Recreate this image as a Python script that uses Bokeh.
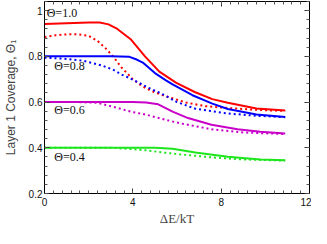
from bokeh.plotting import figure
from bokeh.models import LinearAxis, FixedTicker, Range1d, Label
from bokeh.embed import file_html
from bokeh.resources import INLINE

# ---- data ----
x_red_solid = [0, 1, 2, 2.5, 2.9, 3.3, 3.9, 4.55, 5.2, 5.95, 6.8, 7.6, 8.3, 9.6, 10.9]
y_red_solid = [0.942, 0.945, 0.948, 0.948, 0.94, 0.92, 0.875, 0.80, 0.733, 0.685, 0.644, 0.613, 0.597, 0.572, 0.563]

x_red_dot = [0, 0.5, 1.0, 1.5, 2.0, 2.4, 2.8, 3.1, 3.5, 4.0, 4.4, 4.8, 5.3, 6.4, 7.3, 8.3, 9.6, 10.9]
y_red_dot = [0.885, 0.892, 0.896, 0.897, 0.89, 0.868, 0.832, 0.80, 0.75, 0.70, 0.671, 0.65, 0.632, 0.598, 0.582, 0.574, 0.566, 0.561]

x_blue_solid = [0, 1, 2, 3, 3.85, 4.2, 4.45, 5.0, 5.5, 5.8, 6.7, 7.6, 8.3, 9.6, 10.9]
y_blue_solid = [0.80, 0.80, 0.80, 0.80, 0.798, 0.785, 0.773, 0.727, 0.695, 0.677, 0.63, 0.593, 0.57, 0.546, 0.535]

x_blue_dot = [0, 0.9, 1.8, 2.6, 3.1, 3.5, 4.0, 4.4, 4.8, 5.3, 6.0, 6.8, 7.6, 8.3, 9.6, 10.9]
y_blue_dot = [0.794, 0.79, 0.78, 0.76, 0.742, 0.72, 0.698, 0.678, 0.658, 0.637, 0.60, 0.572, 0.56, 0.55, 0.54, 0.534]

x_mag_solid = [0, 2, 4, 4.6, 5.15, 5.8, 6.5, 7.56, 8.74, 9.77, 10.9]
y_mag_solid = [0.60, 0.60, 0.60, 0.598, 0.59, 0.558, 0.53, 0.501, 0.481, 0.47, 0.463]

x_mag_dot = [0, 1.5, 2.4, 2.86, 3.4, 3.9, 4.6, 5.3, 6.1, 7.56, 9.0, 10.9]
y_mag_dot = [0.60, 0.60, 0.597, 0.585, 0.572, 0.558, 0.545, 0.527, 0.508, 0.481, 0.467, 0.46]

x_green_solid = [0, 4, 5.0, 5.8, 6.83, 8.3, 9.77, 10.9]
y_green_solid = [0.40, 0.40, 0.40, 0.396, 0.379, 0.361, 0.349, 0.345]

x_green_dot = [0, 3.0, 3.9, 4.6, 5.4, 6.1, 7.56, 9.0, 10.9]
y_green_dot = [0.40, 0.40, 0.395, 0.389, 0.379, 0.372, 0.358, 0.349, 0.344]

theta_labels = ["\u0398=1.0", "\u0398=0.8", "\u0398=0.6", "\u0398=0.4"]
theta_label_x = [0.1, 0.44, 0.44, 0.44]
theta_label_y = [0.988, 0.757, 0.565, 0.359]

x_title = "\u0394E/kT"
y_title = "Layer 1 Coverage, \u0398\u2081"

x_ticks = [0, 4, 8, 12]
x_tick_labels = ["0", "4", "8", "12"]
y_ticks = [0.2, 0.4, 0.6, 0.8, 1.0]
y_tick_labels = ["0.2", "0.4", "0.6", "0.8", "1"]

RED = "#ff0000"
BLUE = "#0000ff"
MAG = "#c800c8"
GREEN = "#1ee61e"

p = figure(width=311, height=228, output_backend="svg", toolbar_location=None,
           x_range=Range1d(0, 12), y_range=Range1d(0.2, 1.04),
           min_border_left=37, min_border_right=2, min_border_top=1, min_border_bottom=0)
p.xgrid.visible = False
p.ygrid.visible = False
p.outline_line_color = "black"
p.outline_line_width = 1
p.background_fill_color = "white"
p.border_fill_color = "white"

x_minor = [i * 0.4 for i in range(31)]
y_minor = [0.2 + i * 0.04 for i in range(22)]

xt = FixedTicker(ticks=x_ticks, minor_ticks=x_minor)
yt = FixedTicker(ticks=y_ticks, minor_ticks=y_minor)

def style(ax, labels=True):
    ax.major_tick_in = 5
    ax.major_tick_out = 0
    ax.minor_tick_in = 3
    ax.minor_tick_out = 0
    ax.axis_line_color = "black"
    ax.major_tick_line_color = "#333333"
    ax.minor_tick_line_color = "#555555"
    if labels:
        ax.major_label_text_font = "Liberation Sans"
        ax.major_label_text_font_size = "10px"
        ax.major_label_text_color = "#111111"
        ax.major_label_text_line_height = 1.0
        ax.major_label_standoff = 2
    else:
        ax.major_label_text_font_size = "1px"
        ax.major_label_text_color = None
        ax.major_label_standoff = 0

xa = p.xaxis[0]
xa.ticker = xt
xa.major_label_overrides = {t: l for t, l in zip(x_ticks, x_tick_labels)}
style(xa)
xa.major_label_standoff = 4
xa.axis_label = x_title
xa.axis_label_text_font = "Liberation Serif"
xa.axis_label_text_font_style = "normal"
xa.axis_label_text_font_size = "13px"
xa.axis_label_text_line_height = 1.0
xa.axis_label_standoff = 2

ya = p.yaxis[0]
ya.ticker = yt
ya.major_label_overrides = {t: l for t, l in zip(y_ticks, y_tick_labels)}
style(ya)
ya.axis_label = y_title
ya.axis_label_text_font = "Liberation Sans"
ya.axis_label_text_font_style = "normal"
ya.axis_label_text_font_size = "12px"
ya.axis_label_text_line_height = 1.0
ya.axis_label_standoff = 8

ra = LinearAxis(ticker=FixedTicker(ticks=y_ticks, minor_ticks=y_minor))
style(ra, labels=False)
p.add_layout(ra, "right")
ta = LinearAxis(ticker=FixedTicker(ticks=x_ticks, minor_ticks=x_minor))
style(ta, labels=False)
p.add_layout(ta, "above")

p.line(x_red_solid, y_red_solid, line_color=RED, line_width=2)
p.line(x_red_dot, y_red_dot, line_color=RED, line_width=2, line_dash="2 3")
p.line(x_blue_solid, y_blue_solid, line_color=BLUE, line_width=2)
p.line(x_blue_dot, y_blue_dot, line_color=BLUE, line_width=2, line_dash="2 3")
p.line(x_mag_solid, y_mag_solid, line_color=MAG, line_width=2)
p.line(x_mag_dot, y_mag_dot, line_color=MAG, line_width=2, line_dash="2 3")
p.line(x_green_solid, y_green_solid, line_color=GREEN, line_width=2)
p.line(x_green_dot, y_green_dot, line_color=GREEN, line_width=2, line_dash="2 3")

for t, lx, ly in zip(theta_labels, theta_label_x, theta_label_y):
    p.add_layout(Label(x=lx, y=ly, text=t, text_font="Liberation Serif",
                       text_font_size="12px", text_baseline="middle",
                       text_align="left", text_color="#111111"))

open("out.html", "w").write(file_html(p, INLINE))
